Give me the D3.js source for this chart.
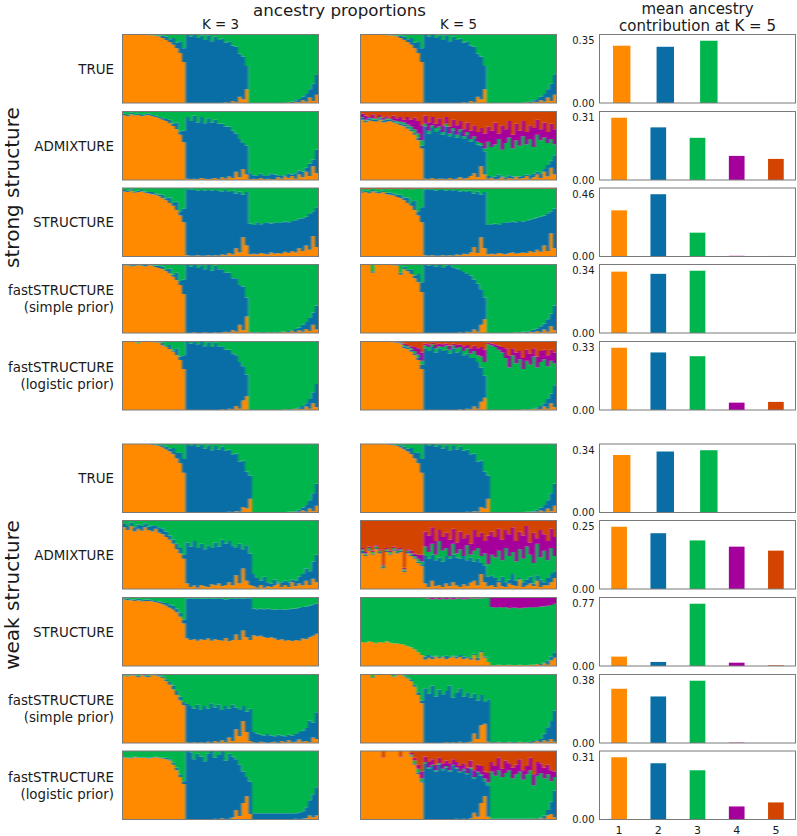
<!DOCTYPE html>
<html><head><meta charset="utf-8">
<script src="https://cdn.jsdelivr.net/npm/d3@7"></script>
<style>html,body{margin:0;padding:0;background:#fff}svg{display:block}text{font-family:"DejaVu Sans";fill:#1a1a1a}</style>
</head><body><svg id="c" width="797" height="836"></svg>
<script>
// Upper edge (percent of the stack) of each ancestry band, per sampled column of individuals.
const strongTrueOrange=[100,100,100,100,100,100,100,99,99,98,97,95,92,89,85,80,73,60,0,0,0,0,0,0,0,0,0,0,0,1,0,3,1,9,5,20,0,0,0,0,0,0,0,0,0,0,0,1,0,2,1,4,2,8,3,12];
const strongTrueBlue=[100,100,100,100,100,100,100,100,99,99,98,98,97,93,95,88,90,80,100,97,100,95,98,92,99,90,97,92,94,88,90,84,82,72,68,54,0,0,0,0,0,0,0,0,0,0,1,1,2,4,6,9,13,20,28,42];
const strongAdmixK3Orange=[95,93,96,94,95,93,94,95,93,92,90,88,86,83,79,74,66,55,2,1,2,1,3,2,1,2,3,1,4,2,5,3,12,4,16,8,1,2,1,3,1,2,1,1,4,2,5,3,6,2,8,4,12,6,20,10];
const strongAdmixK3Blue=[97,95,98,96,97,95,96,97,95,94,92,91,89,88,82,84,71,72,92,86,94,84,92,83,90,84,88,82,82,78,78,72,68,60,54,50,10,7,6,9,7,6,10,8,7,6,7,9,8,10,14,12,18,24,30,44];
const strongAdmixK5Orange=[88,84,87,86,85,88,84,85,86,84,82,80,78,75,71,66,58,46,2,1,3,1,2,2,1,3,1,2,4,2,3,6,10,4,20,8,2,3,1,2,4,1,3,2,5,2,3,6,2,4,8,3,12,5,18,8];
const strongAdmixK5Blue=[91,87,90,88,88,90,87,88,88,86,84,83,81,78,74,69,62,50,78,68,76,70,74,66,78,64,72,62,70,60,66,56,60,52,50,42,6,4,5,8,5,4,7,5,6,5,6,8,7,9,12,10,16,22,28,36];
const strongAdmixK5Green=[92,88,91,90,89,92,88,90,89,87,86,85,84,81,78,74,68,58,82,72,80,76,78,70,82,68,76,66,74,64,70,60,64,56,54,46,56,48,52,60,44,54,62,46,58,50,64,52,60,48,66,58,62,54,60,52];
const strongAdmixK5Purple=[97,94,92,96,90,95,91,93,90,94,90,92,88,92,88,91,86,80,94,84,92,82,90,80,92,78,88,80,86,74,84,72,80,70,76,68,78,72,84,68,80,74,86,66,82,72,86,70,80,76,88,74,84,70,82,74];
const strongStructK3Orange=[95,94,96,93,94,95,93,92,91,90,88,85,82,78,74,68,60,50,2,1,1,2,1,1,2,1,2,1,3,2,5,3,12,6,28,16,3,4,3,5,4,3,6,4,5,4,7,5,8,6,12,8,16,10,30,14];
const strongStructK3Blue=[97,96,98,95,96,97,95,94,94,92,90,90,85,86,78,80,66,70,97,98,97,96,97,96,97,96,97,96,95,97,94,96,92,95,90,94,48,46,50,47,49,50,48,50,49,50,51,50,52,53,55,56,58,62,66,72];
const strongStructK5Orange=[93,94,92,95,93,92,94,91,90,89,87,85,82,78,74,68,60,50,2,1,2,1,1,2,1,2,1,3,2,4,3,6,14,5,28,12,3,4,3,5,4,3,5,6,4,5,6,5,8,6,10,7,16,8,34,12];
const strongStructK5Blue=[95,96,94,97,95,94,96,93,93,92,90,90,86,86,78,82,66,72,98,97,98,96,97,97,96,97,96,97,95,96,94,96,92,95,90,94,46,47,48,46,49,50,50,51,50,52,51,52,54,55,57,58,60,63,66,70];
const strongStructK5Green=[98,99,98,99,99,98,99,99,98,99,99,98,99,99,98,99,99,99,99,99,99,99,99,99,99,99,99,99,99,99,99,99,99,99,99,99,99,99,99,99,99,99,99,99,99,99,99,99,99,99,99,99,99,99,99,99];
const strongSimpleK3Orange=[98,99,97,98,99,98,97,99,98,96,95,93,90,87,82,77,70,57,0,0,1,0,0,1,0,0,1,0,1,2,1,4,2,12,4,24,1,0,1,0,0,1,0,1,0,1,2,1,3,1,4,2,6,3,12,5];
const strongSimpleK3Blue=[99,100,99,100,100,99,100,100,99,98,98,97,92,94,85,88,76,78,100,97,100,95,99,93,100,91,98,93,93,88,88,80,80,70,68,52,1,1,1,1,1,1,1,1,1,2,2,3,4,6,8,12,16,22,30,40];
const strongSimpleK5Orange=[100,100,100,88,100,100,100,100,100,99,98,85,93,90,86,80,74,60,0,0,0,0,0,0,0,0,0,0,1,0,2,1,5,2,12,20,0,0,0,0,0,0,0,0,1,0,1,0,2,1,3,1,5,2,10,4];
const strongSimpleK5Blue=[100,100,100,90,100,100,100,100,100,100,99,88,97,92,93,84,86,74,100,98,100,97,100,95,98,100,96,94,92,89,86,84,78,72,64,52,0,0,0,0,0,0,0,0,1,1,2,2,3,5,7,10,14,20,28,40];
const strongLogisticK3Orange=[100,100,100,100,97,100,100,100,100,99,98,94,92,89,85,80,73,60,0,0,0,0,0,0,0,0,0,0,1,0,2,1,6,2,14,20,0,0,0,0,0,0,0,0,0,0,1,0,1,1,2,1,5,2,10,4];
const strongLogisticK3Blue=[100,100,100,100,98,100,100,100,100,100,99,98,93,95,87,90,78,80,100,97,100,96,100,93,99,92,98,93,93,88,88,83,80,70,64,52,0,0,0,0,0,0,0,0,0,0,0,1,1,2,4,6,10,16,26,38];
const strongLogisticK5Orange=[100,100,100,100,100,100,100,100,100,99,98,96,90,89,85,80,73,60,0,0,0,0,0,0,0,0,0,0,1,0,2,1,5,2,12,18,0,0,0,0,0,0,0,0,0,0,1,0,1,1,2,1,5,2,10,4];
const strongLogisticK5Blue=[100,100,100,100,100,100,100,100,100,100,99,97,93,91,88,83,77,66,90,86,92,84,90,86,88,82,90,84,86,80,82,76,76,70,62,50,0,0,0,0,0,0,0,0,0,0,0,1,1,2,4,6,10,16,24,36];
const strongLogisticK5Green=[100,100,100,100,100,100,100,100,100,100,99,98,95,93,90,86,81,72,94,92,96,90,93,92,94,88,94,90,92,86,90,82,86,80,78,70,96,94,92,88,84,76,62,80,68,74,60,72,66,78,62,70,74,64,72,68];
const strongLogisticK5Purple=[100,100,100,100,100,100,100,100,100,100,100,99,97,95,93,92,90,84,97,96,98,95,97,96,97,94,97,95,96,93,95,90,94,90,92,88,98,97,96,94,92,90,80,90,84,86,76,88,82,90,78,86,88,80,88,84];
const weakTrueOrange=[100,100,100,100,100,100,100,100,99,98,97,95,92,89,85,79,72,58,0,0,0,0,0,0,0,0,0,0,0,0,1,0,2,1,8,6,20,0,0,0,0,0,0,0,0,0,0,1,0,1,1,3,1,6,2,10];
const weakTrueBlue=[100,100,100,100,100,100,100,100,100,99,98,98,96,93,94,87,88,78,100,97,100,96,99,93,98,91,97,92,96,90,92,85,86,74,76,60,54,0,0,0,0,0,0,0,0,0,0,1,1,2,4,7,11,18,28,42];
const weakAdmixK3Orange=[90,86,92,84,88,85,90,86,84,88,82,80,76,72,66,58,52,44,8,3,5,2,6,4,3,7,5,8,4,6,10,5,20,8,30,12,6,4,2,6,2,4,3,5,8,3,6,3,10,4,8,5,12,6,15,10];
const weakAdmixK3Blue=[96,92,97,90,94,92,96,91,93,92,90,88,84,78,72,66,60,50,68,62,70,60,66,58,64,60,68,62,72,66,70,64,60,66,58,64,52,22,16,12,18,10,8,14,9,10,12,10,14,12,18,22,30,26,40,50];
const weakAdmixK5Orange=[52,48,56,50,58,52,30,54,50,56,52,54,25,52,48,44,38,34,8,3,12,4,6,3,8,4,10,5,3,7,4,9,12,5,22,10,4,6,3,10,4,3,8,6,4,14,3,5,8,4,12,3,6,5,10,16];
const weakAdmixK5Blue=[56,50,58,52,60,54,32,56,52,58,54,56,27,54,50,46,40,36,48,44,50,42,46,40,48,44,50,46,44,48,42,46,40,44,38,34,18,20,16,12,18,10,14,22,12,16,10,14,18,8,20,14,10,16,22,26];
const weakAdmixK5Green=[58,52,60,54,62,56,34,58,54,60,56,58,29,56,52,48,44,40,62,54,66,50,70,56,60,48,66,52,58,46,64,50,56,60,48,52,36,50,46,56,42,60,48,54,40,58,44,62,50,38,66,46,56,42,60,48];
const weakAdmixK5Purple=[60,54,62,56,64,58,36,60,56,62,58,60,31,58,56,52,50,50,84,78,90,70,86,76,82,72,88,68,84,74,80,66,86,76,82,70,78,84,76,88,72,86,80,90,70,84,78,92,68,82,74,86,80,70,88,76];
const weakStructK3Orange=[97,96,96,95,96,94,95,95,94,93,92,90,88,85,82,78,72,62,40,38,39,37,39,38,40,37,39,38,37,41,36,38,46,38,52,42,38,45,43,44,42,41,42,40,38,39,37,38,36,38,37,40,39,42,44,47];
const weakStructK3Blue=[98,98,97,97,98,96,97,97,96,95,94,93,92,90,88,84,78,68,98,99,98,99,98,98,99,98,98,99,98,97,98,99,98,99,98,99,99,84,83,84,83,84,83,82,83,83,82,83,84,84,85,86,87,88,90,91];
const weakStructK5Orange=[35,34,36,35,33,35,34,36,34,33,33,32,31,29,27,24,20,16,9,12,10,14,11,13,10,12,14,11,13,10,12,9,16,8,20,12,6,1,1,2,1,1,2,1,1,2,1,1,2,1,3,1,4,2,8,12];
const weakStructK5Blue=[35,34,36,35,33,35,34,36,34,33,33,32,31,29,27,24,20,16,14,16,14,15,13,14,15,13,15,14,16,14,13,12,18,12,22,14,6,1,1,2,1,1,2,1,1,2,1,1,2,2,3,3,5,8,14,20];
const weakStructK5Green=[100,100,100,100,100,100,100,100,100,100,100,100,100,100,100,100,100,100,99,98,97,98,97,98,97,98,97,98,98,97,98,98,99,98,99,99,100,86,85,86,85,86,84,85,85,84,85,85,86,85,86,87,87,88,89,91];
const weakStructK5Purple=[100,100,100,100,100,100,100,100,100,100,100,100,100,100,100,100,100,100,100,99,100,99,100,99,100,99,100,99,100,99,100,99,100,99,100,100,100,100,100,100,100,100,100,100,100,100,100,100,100,100,100,100,100,100,100,100];
const weakSimpleK3Orange=[98,97,99,98,96,99,97,96,100,98,97,95,90,85,78,70,62,55,1,0,1,0,1,0,2,0,3,1,4,1,8,3,20,10,32,16,3,1,0,2,1,0,1,2,0,3,1,4,1,2,5,2,3,1,8,6];
const weakSimpleK3Blue=[99,98,100,99,98,100,99,98,100,99,99,97,93,89,84,76,68,60,57,54,50,56,48,54,50,58,52,56,48,54,50,56,52,48,54,46,50,16,14,12,11,13,11,10,12,11,10,12,11,13,16,18,22,33,30,45];
const weakSimpleK5Orange=[100,100,100,95,100,100,100,100,100,96,99,100,97,94,90,82,70,58,0,0,0,0,0,0,1,0,1,0,2,0,1,2,14,6,26,28,2,0,0,1,0,0,1,0,0,2,0,1,0,1,3,1,4,2,6,2];
const weakSimpleK5Blue=[100,100,100,96,100,100,100,100,100,97,100,100,98,96,92,85,74,62,80,72,84,68,78,70,76,84,66,74,80,68,74,66,72,62,70,60,64,1,1,2,1,1,2,1,1,2,1,1,2,3,4,6,14,23,32,47];
const weakLogisticK3Orange=[90,90,89,91,90,90,90,89,90,91,90,89,88,86,80,72,62,52,0,0,0,0,0,0,0,0,1,0,2,0,1,3,14,5,24,34,8,0,0,0,0,0,0,0,0,0,0,0,0,1,0,1,2,6,3,6];
const weakLogisticK3Blue=[91,91,90,92,91,91,91,90,91,92,91,90,90,88,83,76,66,56,100,98,88,96,92,85,96,100,90,94,100,86,96,92,88,80,70,62,55,9,9,9,9,9,9,9,9,9,9,9,9,9,10,12,18,28,37,47];
const weakLogisticK5Orange=[100,100,100,100,100,100,90,100,100,100,100,91,100,100,92,80,66,54,0,0,0,0,0,0,0,0,0,1,0,1,0,2,10,4,24,34,4,0,0,0,0,0,0,0,0,0,0,0,0,1,0,2,1,6,8,3];
const weakLogisticK5Blue=[100,100,100,100,100,100,90,100,100,100,100,91,100,100,93,82,69,56,82,74,78,70,80,72,76,70,78,74,68,72,66,74,60,68,64,56,50,1,1,1,1,1,1,1,1,1,1,1,1,1,2,3,6,14,26,42];
const weakLogisticK5Green=[100,100,100,100,100,100,90,100,100,100,100,91,100,100,95,86,74,60,84,76,80,72,82,74,78,72,80,76,70,74,68,76,62,70,66,60,54,70,64,72,62,68,72,60,66,70,58,66,72,50,64,68,60,66,56,62];
const weakLogisticK5Purple=[100,100,100,100,100,100,91,100,100,100,100,92,100,100,97,90,80,70,92,84,88,80,90,82,86,82,88,84,78,82,76,86,72,80,78,70,68,84,78,90,74,86,82,76,80,88,72,78,90,66,84,82,76,80,72,70];

const rowLabels=[["TRUE"],["ADMIXTURE"],["STRUCTURE"],["fastSTRUCTURE","(simple prior)"],["fastSTRUCTURE","(logistic prior)"],["TRUE"],["ADMIXTURE"],["STRUCTURE"],["fastSTRUCTURE","(simple prior)"],["fastSTRUCTURE","(logistic prior)"]];
const groupLabels=["strong structure","weak structure"];
const meanContribution=[[.322,.316,.35],[.31,.262,.21,.12,.105],[.341,.46,.176,.005,.004],[.335,.323,.34,0,0],[.33,.305,.285,.039,.043],[.314,.333,.34],[.25,.224,.195,.17,.154],[.116,.05,.77,.041,.008],[.331,.284,.38,.002,0],[.31,.28,.245,.065,.085]];
const maxTickLabels=["0.35","0.31","0.46","0.34","0.33","0.34","0.25","0.77","0.38","0.31"];
const k3Bands=[[strongTrueOrange,strongTrueBlue],[strongAdmixK3Orange,strongAdmixK3Blue],[strongStructK3Orange,strongStructK3Blue],[strongSimpleK3Orange,strongSimpleK3Blue],[strongLogisticK3Orange,strongLogisticK3Blue],[weakTrueOrange,weakTrueBlue],[weakAdmixK3Orange,weakAdmixK3Blue],[weakStructK3Orange,weakStructK3Blue],[weakSimpleK3Orange,weakSimpleK3Blue],[weakLogisticK3Orange,weakLogisticK3Blue]];
const k5Bands=[[strongTrueOrange,strongTrueBlue],[strongAdmixK5Orange,strongAdmixK5Blue,strongAdmixK5Green,strongAdmixK5Purple],[strongStructK5Orange,strongStructK5Blue,strongStructK5Green],[strongSimpleK5Orange,strongSimpleK5Blue],[strongLogisticK5Orange,strongLogisticK5Blue,strongLogisticK5Green,strongLogisticK5Purple],[weakTrueOrange,weakTrueBlue],[weakAdmixK5Orange,weakAdmixK5Blue,weakAdmixK5Green,weakAdmixK5Purple],[weakStructK5Orange,weakStructK5Blue,weakStructK5Green,weakStructK5Purple],[weakSimpleK5Orange,weakSimpleK5Blue],[weakLogisticK5Orange,weakLogisticK5Blue,weakLogisticK5Green,weakLogisticK5Purple]];
const colors=["#ff8a00","#0a6ea6","#00b64c","#a6009c","#d24400"];
const remainderColor={2:2,3:4,4:4};

// Layout
const rowTop=[34.5,111.5,188,264.5,341.5,444,520.5,597.5,674.5,751];
const panelH=68.5,panelW=196,colLeft=[122.5,360.5],barLeft=599.5,borderColor="#7a7a7a";
const svg=d3.select("#c");
const defs=svg.append("defs");
defs.append("filter").attr("id","soft").attr("x","-5%").attr("y","-5%").attr("width","110%").attr("height","110%")
  .attr("color-interpolation-filters","sRGB")
  .append("feGaussianBlur").attr("stdDeviation","1.05 0.35");
let clipN=0;

function strip(g,bands,left,top){
  const n=bands[0].length;
  const x=d3.scaleLinear().domain([0,n]).range([left,left+panelW]);
  const y=d3.scaleLinear().domain([0,100]).range([top+panelH,top]);
  const edges=[];
  bands.forEach((b,k)=>edges.push(b.map((v,i)=>Math.max(v,k?edges[k-1][i]:0))));
  const full=d3.range(n).map(()=>100),zero=d3.range(n).map(()=>0);
  const layers=edges.map((e,k)=>({lo:k?edges[k-1]:zero,hi:e,c:colors[k]}));
  layers.push({lo:edges[edges.length-1],hi:full,c:colors[remainderColor[edges.length]]});
  const id="clip"+(clipN++);
  defs.append("clipPath").attr("id",id).append("rect").attr("x",left).attr("y",top).attr("width",panelW).attr("height",panelH);
  const inner=g.append("g").attr("clip-path",`url(#${id})`).append("g").attr("filter","url(#soft)");
  const at=i=>Math.max(0,Math.min(n-1,i));
  layers.forEach(l=>{
    const pts=d3.range(-2,n+3).map(i=>({i,a:l.lo[at(i)],b:l.hi[at(i)]}));
    inner.append("path").attr("fill",l.c)
     .attr("d",d3.area().curve(d3.curveStepAfter).x(d=>x(d.i)).y0(d=>y(d.a)).y1(d=>y(d.b))(pts));
  });
  g.append("rect").attr("x",left).attr("y",top).attr("width",panelW).attr("height",panelH)
   .attr("fill","none").attr("stroke",borderColor);
}

function bars(g,vals,top,maxLabel,last){
  const maxV=+maxLabel;
  const x=vals.length===3?d3.scaleLinear().domain([.49,4.99]).range([barLeft,barLeft+panelW])
                         :d3.scaleLinear().domain([.5,5.5]).range([barLeft,barLeft+panelW]);
  const y=d3.scaleLinear().domain([0,maxV*1.1]).range([top+panelH,top]);
  g.selectAll("rect.b").data(vals).join("rect").attr("class","b")
   .attr("x",(d,i)=>x(i+1-.2)).attr("width",(d,i)=>x(i+1+.2)-x(i+1-.2))
   .attr("y",d=>y(d)).attr("height",d=>y(0)-y(d)).attr("fill",(d,i)=>colors[i]);
  g.append("rect").attr("x",barLeft).attr("y",top).attr("width",panelW).attr("height",panelH)
   .attr("fill","none").attr("stroke",borderColor);
  [[0,"0.00"],[maxV,maxLabel]].forEach(([v,l])=>{
    g.append("text").attr("x",594.5).attr("y",y(v)+3.6).attr("text-anchor","end").attr("font-size",10).text(l);
  });
  if(last){
    d3.range(1,6).forEach(i=>g.append("text").attr("x",x(i)).attr("y",top+panelH+14.5)
      .attr("text-anchor","middle").attr("font-size",11).text(i));
  }
}

rowLabels.forEach((lab,r)=>{
  const g=svg.append("g"),top=rowTop[r];
  strip(g,k3Bands[r],colLeft[0],top);
  strip(g,k5Bands[r],colLeft[1],top);
  bars(g,meanContribution[r],top,maxTickLabels[r],r===9);
  const cy=top+panelH/2;
  lab.forEach((t,i)=>{
    g.append("text").attr("x",114).attr("y",cy+4.8+(i-(lab.length-1)/2)*17)
     .attr("text-anchor","end").attr("font-size",13.4).text(t);
  });
});
const title=(t,x,y,s)=>svg.append("text").attr("x",x).attr("y",y).attr("text-anchor","middle").attr("font-size",s).text(t);
title("ancestry proportions",339.5,15.6,16.7);
title("K = 3",220.5,29,13.4);
title("K = 5",458.5,29,13.4);
title("mean ancestry",697.5,14,15);
title("contribution at K = 5",697.5,31,15);
[[187.5,groupLabels[0]],[595,groupLabels[1]]].forEach(([cy,t])=>{
  svg.append("text").attr("transform",`translate(18.8,${cy}) rotate(-90)`).attr("text-anchor","middle").attr("font-size",20).text(t);
});
</script></body></html>
